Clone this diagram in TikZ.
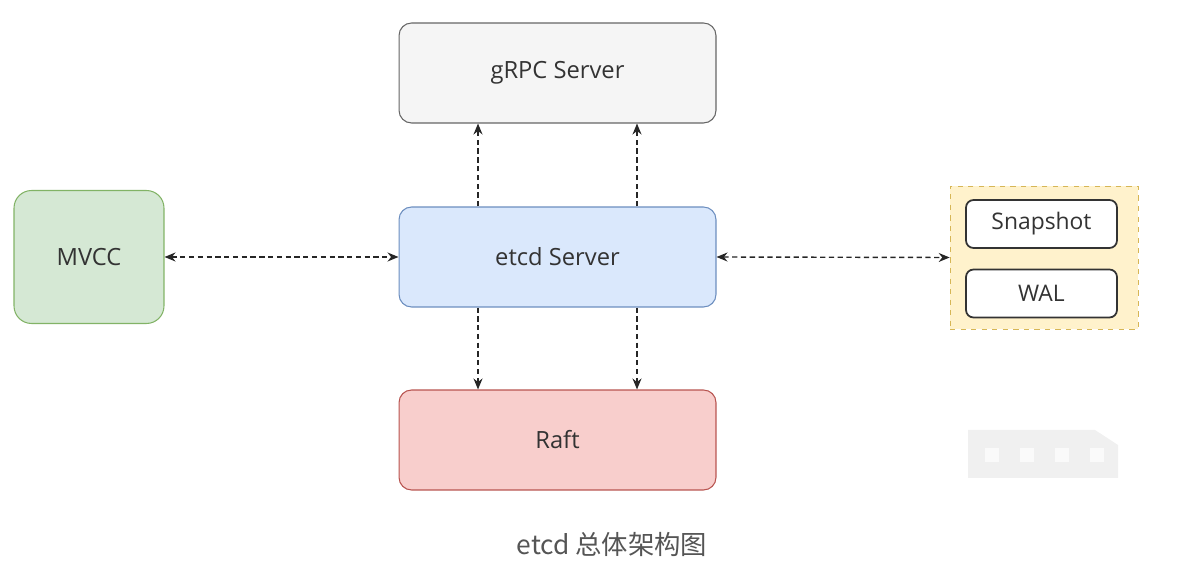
\documentclass[tikz,border=0pt]{standalone}
\usepackage{fontspec}
\setmainfont{Open Sans}
\newfontfamily\cjk{Noto Sans CJK SC}
\usetikzlibrary{arrows.meta,calc,positioning}
\definecolor{grayfill}{HTML}{F5F5F5}
\definecolor{graydraw}{HTML}{666666}
\definecolor{bluefill}{HTML}{DAE8FC}
\definecolor{bluedraw}{HTML}{6C8EBF}
\definecolor{redfill}{HTML}{F8CECC}
\definecolor{reddraw}{HTML}{B85450}
\definecolor{greenfill}{HTML}{D5E8D4}
\definecolor{greendraw}{HTML}{82B366}
\definecolor{yellowfill}{HTML}{FFF2CC}
\definecolor{yellowdraw}{HTML}{D6B656}
\definecolor{captext}{HTML}{555555}
\tikzset{
  block/.style={
    shape = rectangle,
    draw,
    semithick,
    rounded corners = 0.25cm,
    minimum width = 6.34cm,
    minimum height = 2cm,
    inner sep = 0pt,
    font = \fontsize{13.5}{15}\selectfont,
    text = black!80
  },
  part/.style={
    shape = rectangle,
    draw = black!80,
    line width = 1pt,
    fill = white,
    rounded corners = 0.15cm,
    minimum width = 3.02cm,
    minimum height = 0.96cm,
    inner sep = 0pt,
    font = \fontsize{13}{15}\selectfont,
    text = black!80
  },
  link/.style={
    densely dashed,
    thick,
    black!85,
    {Stealth[length=2.2mm,width=1.8mm]}-{Stealth[length=2.2mm,width=1.8mm]}
  },
  uplink/.style={
    densely dashed,
    thick,
    black!85,
    -{Stealth[length=2.2mm,width=1.8mm]}
  },
}
\begin{document}
\begin{tikzpicture}[x=0.02cm,y=-0.02cm]
\useasboundingbox (0,0) rectangle (1200,573);
% main blocks
\node[block, fill=grayfill, draw=graydraw] (grpc) at (557.5,73) {gRPC Server};
\node[block, fill=bluefill, draw=bluedraw] (etcd) at (557.5,257) {etcd Server};
\node[block, fill=redfill, draw=reddraw] (raft) at (557.5,440) {Raft};
\node[block, fill=greenfill, draw=greendraw, minimum width=3cm, minimum height=2.66cm,
      rounded corners=0.35cm] (mvcc) at (89,257) {MVCC};
% storage
\node[draw=yellowdraw, fill=yellowfill, dashed, minimum width=3.76cm, minimum height=2.86cm,
      inner sep=0pt] (store) at (1044,257.5) {};
\node[part] (snap) at (1041.5,224) {Snapshot};
\node[part] (wal) at (1041.5,293.5) {WAL};
% connectors
\foreach \f in {0.25,0.75}{
  \draw[uplink] ($(etcd.north west)!\f!(etcd.north east)$) -- ($(grpc.south west)!\f!(grpc.south east)$);
  \draw[uplink] ($(etcd.south west)!\f!(etcd.south east)$) -- ($(raft.north west)!\f!(raft.north east)$);
}
\draw[link] (mvcc.east) -- (etcd.west);
\draw[link] (etcd.east) -- (store.west);
% masked mark
\fill[black!6] (968,430) -- (1095,430) -- (1118,445) -- (1118,478) -- (968,478) -- cycle;
\foreach \x in {985,1020,1055,1090}{
  \fill[black!2] (\x,448) rectangle +(14,14);
}
% caption
\node[text=captext, font=\cjk\fontsize{15}{17}\selectfont] (cap) at (612,545) {etcd 总体架构图};
\end{tikzpicture}
\end{document}
